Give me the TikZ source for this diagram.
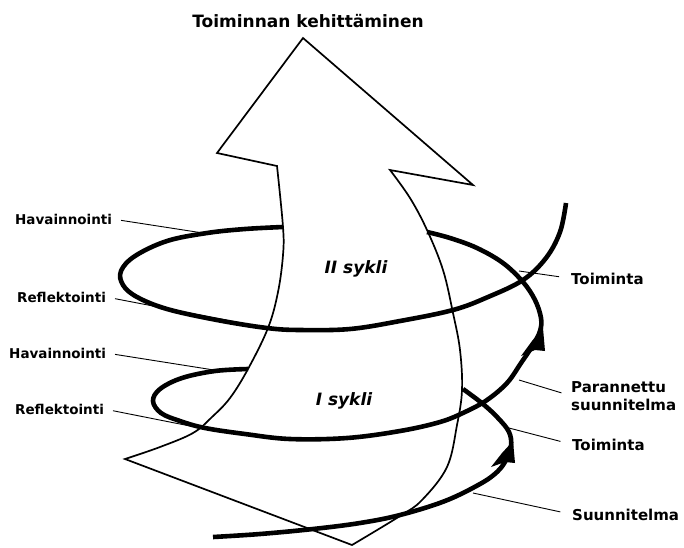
\documentclass[tikz,border=0pt]{standalone}
\usepackage{fontspec}
\setmainfont{DejaVu Sans}
\usetikzlibrary{arrows.meta}
\begin{document}
\begin{tikzpicture}[x=1pt,y=-1pt,
  outline/.style={line width=1.7pt, line join=miter},
  spiral/.style={line width=4.6pt},
  pointer/.style={line width=0.9pt},
  lbl/.style={font=\bfseries\fontsize{13.5}{15}\selectfont, inner sep=0pt},
  rlbl/.style={font=\bfseries\fontsize{15}{18}\selectfont, inner sep=0pt, align=left},
  ttl/.style={font=\bfseries\fontsize{17}{20}\selectfont, inner sep=0pt},
  cyc/.style={font=\bfseries\itshape\fontsize{17}{20}\selectfont, inner sep=0pt},
  barb/.style={fill=black, line join=miter}
]
\useasboundingbox (0,0) rectangle (684,547);

% the big arrow
\draw[outline, fill=white] (303,38) -- (473,185) -- (390,170)
  -- plot[smooth, tension=0.6] coordinates {(390,170) (410,198) (427,230) (443,270) (453,313) (460,350) (462,390) (457,425) (447,467) (422,500) (400,516) (352,545)}
  -- (125,459)
  -- plot[smooth, tension=0.6] coordinates {(125,459) (160,447) (193,433) (212,417) (230,398) (248,369) (268,328) (278,292) (283,255) (283,227) (277,166)}
  -- (217,153) -- cycle;

% spiral, visible parts
\draw[spiral] plot[smooth, tension=0.6] coordinates {(213,537) (260,534) (313,529) (360,523) (400,515) (445,501) (480,484) (497,472) (506,460) (511,446) (509,432) (498,418) (483,404) (463,389)};
\draw[spiral] plot[smooth, tension=0.6] coordinates {(248,369) (215,371) (182,378) (160,389) (153,401) (161,413) (180,421) (205,428) (245,434) (290,439) (347,438) (400,431) (440,422) (465,412) (487,400) (507,383) (521,363) (533,345) (540,331) (541,318) (535,300) (523,282) (503,263) (477,248) (450,238) (427,232)};
\draw[spiral] plot[smooth, tension=0.6] coordinates {(283,227) (245,229) (207,233) (167,241) (135,256) (121,271) (123,285) (137,297) (167,309) (217,320) (267,328) (300,330) (350,329) (400,321) (453,310) (488,297) (523,280) (546,258) (560,232) (566,203)};

% arrow heads on the spiral
\fill[barb] (513,441) -- (515,463) -- (505,462) -- (491,467) -- (502,453) -- cycle;
\fill[barb] (543,328) -- (545,351) -- (535,350) -- (521,356) -- (532,341) -- cycle;

% texts
\node[ttl, anchor=base] (title) at (308,27) {Toiminnan kehittäminen};
\node[cyc, anchor=base] (c2) at (356,273) {II sykli};
\node[cyc, anchor=base] (c1) at (344,405) {I sykli};

\node[lbl, anchor=base west] (hav1) at (15,224) {Havainnointi};
\node[lbl, anchor=base west] (ref1) at (17,302) {Reflektointi};
\node[lbl, anchor=base west] (hav2) at (9,358) {Havainnointi};
\node[lbl, anchor=base west] (ref2) at (15,414) {Reflektointi};

\node[rlbl, anchor=base west] (toim1) at (571,284) {Toiminta};
\node[rlbl, anchor=north west] (paran) at (571,381) {Parannettu\\suunnitelma};
\node[rlbl, anchor=base west] (toim2) at (572,450) {Toiminta};
\node[rlbl, anchor=base west] (suun) at (572,520) {Suunnitelma};

% pointer ends
\coordinate (hav1p) at (203,233);
\coordinate (ref1p) at (252,325);
\coordinate (hav2p) at (214,370);
\coordinate (ref2p) at (195,427);
\coordinate (toim1p) at (519,271);
\coordinate (paranp) at (519,380);
\coordinate (toim2p) at (509,428);
\coordinate (suunp) at (473,493);

\draw[pointer, shorten <=9pt] (hav1.east) -- (hav1p);
\draw[pointer, shorten <=9pt] (ref1.east) -- (ref1p);
\draw[pointer, shorten <=9pt] (hav2.east) -- (hav2p);
\draw[pointer, shorten <=9pt] (ref2.east) -- (ref2p);
\draw[pointer, shorten >=12pt] (toim1p) -- (toim1.west);
\draw[pointer, shorten >=10pt] (paranp) -- (paran.west);
\draw[pointer, shorten >=12pt] (toim2p) -- (toim2.west);
\draw[pointer, shorten >=12pt] (suunp) -- (suun.west);
\end{tikzpicture}
\end{document}
